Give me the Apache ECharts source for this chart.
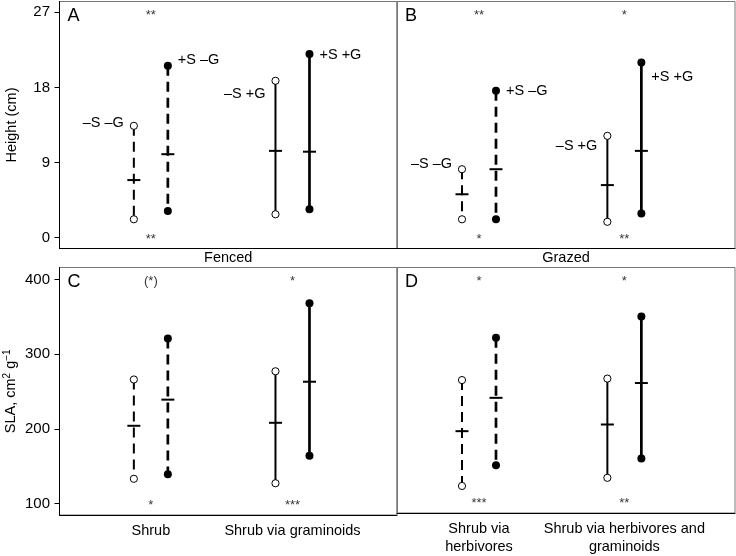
<!DOCTYPE html>
<html><head><meta charset="utf-8">
<script src="https://cdn.jsdelivr.net/npm/echarts@6/dist/echarts.min.js"></script>
<style>html,body{margin:0;padding:0;background:#fff}#c{width:736px;height:556px}</style>
</head><body><div id="c"></div>
<script>
// ---------- data ----------
const treatments = ['–S –G', '+S –G', '–S +G', '+S +G'];
const groupOf = [1, 1, 2, 2];      // x group (category index) of each treatment
const sideOf = [-1, 1, -1, 1];      // left / right within group
const heightTicks = [0, 9, 18, 27];
const slaTicks = [100, 200, 300, 400];
const fencedCats = ['Shrub', 'Shrub via graminoids'];
const grazedCats = ['Shrub via\nherbivores', 'Shrub via herbivores and\ngraminoids'];
const panelLetters = ['A', 'B', 'C', 'D'];

const hFencedMin = [2.2, 3.2, 2.8, 3.4];
const hFencedMean = [6.9, 10.0, 10.4, 10.3];
const hFencedMax = [13.4, 20.6, 18.8, 22.0];
const hGrazedMin = [2.2, 2.2, 1.9, 2.9];
const hGrazedMean = [5.2, 8.2, 6.3, 10.4];
const hGrazedMax = [8.2, 17.6, 12.2, 21.0];
const slaFencedMin = [133, 139, 127, 164];
const slaFencedMean = [204, 239, 208, 263];
const slaFencedMax = [266, 321, 277, 368];
const slaGrazedMin = [121, 149, 132, 158];
const slaGrazedMean = [195, 240, 204, 260];
const slaGrazedMax = [264, 321, 266, 350];

// heights at which treatment names are written (panels A and B)
const hFencedLabelY = [13.7, 21.3, 17.2, 21.9];
const hGrazedLabelY = [8.8, 17.6, 11.0, 19.2];

// significance marks per group [group1, group2]
const sigHFencedTop = ['**', ''];
const sigHFencedBottom = ['**', ''];
const sigHGrazedTop = ['**', '*'];
const sigHGrazedBottom = ['*', '**'];
const sigSlaFencedTop = ['(*)', '*'];
const sigSlaFencedBottom = ['*', '***'];
const sigSlaGrazedTop = ['*', '*'];
const sigSlaGrazedBottom = ['***', '**'];
const heightSigY = [26.6, -0.2];
const slaSigY = [397.5, 97.5];

// ---------- layout ----------
const FONT = 'Liberation Sans, Arial, Helvetica, sans-serif';
const grids = [
  {left: 59.5, top: 1.5, width: 337.5, height: 247},
  {left: 397, top: 1.5, width: 338, height: 247},
  {left: 59.5, top: 267.5, width: 337.5, height: 247.5},
  {left: 397, top: 267.5, width: 338, height: 247.5}
];
const xRanges = [[0.355, 2.738], [0.436, 2.761], [0.355, 2.738], [0.436, 2.761]];
const yRanges = [[-1.3, 28.3], [-1.3, 28.3], [84.5, 416], [84.5, 416]];

function renderRange(params, api) {
  const g = api.value(0), side = api.value(1);
  const mn = api.value(2), mean = api.value(3), mx = api.value(4);
  const idx = api.value(5), ly = api.value(6);
  const p = api.coord([g, mn]);
  const x = p[0] + side * 17;
  const yMin = p[1];
  const yMax = api.coord([g, mx])[1];
  const yMean = api.coord([g, mean])[1];
  const filled = (idx === 1 || idx === 3);
  const dashed = (idx === 0 || idx === 1);
  const children = [
    {type: 'line', shape: {x1: x, y1: yMax, x2: x, y2: yMin},
     style: {stroke: '#000', lineWidth: filled ? 2.7 : 2, lineDash: dashed ? [10, 6] : null}},
    {type: 'line', shape: {x1: x - 6.5, y1: yMean, x2: x + 6.5, y2: yMean},
     style: {stroke: '#000', lineWidth: 2}},
    {type: 'circle', shape: {cx: x, cy: yMax, r: filled ? 4 : 3.6},
     style: {fill: filled ? '#000' : '#fff', stroke: '#000', lineWidth: filled ? 0 : 1}},
    {type: 'circle', shape: {cx: x, cy: yMin, r: filled ? 4 : 3.6},
     style: {fill: filled ? '#000' : '#fff', stroke: '#000', lineWidth: filled ? 0 : 1}}
  ];
  if (!isNaN(ly)) {
    children.push({type: 'text', x: x + side * 10, y: api.coord([g, ly])[1],
      style: {text: treatments[idx], font: '14.5px ' + FONT, fill: '#000',
        align: side > 0 ? 'left' : 'right', verticalAlign: 'middle'}});
  }
  return {type: 'group', children: children};
}

function rangeData(mins, means, maxs, labelY) {
  return treatments.map((t, i) => [groupOf[i], sideOf[i], mins[i], means[i], maxs[i], i,
    labelY ? labelY[i] : NaN]);
}
function sigData(top, bottom, ys) {
  const d = [];
  [0, 1].forEach(k => {
    if (top[k]) d.push({value: [k + 1, ys[0]], name: top[k]});
    if (bottom[k]) d.push({value: [k + 1, ys[1]], name: bottom[k]});
  });
  return d;
}

const panels = [
  {data: rangeData(hFencedMin, hFencedMean, hFencedMax, hFencedLabelY), sig: sigData(sigHFencedTop, sigHFencedBottom, heightSigY)},
  {data: rangeData(hGrazedMin, hGrazedMean, hGrazedMax, hGrazedLabelY), sig: sigData(sigHGrazedTop, sigHGrazedBottom, heightSigY)},
  {data: rangeData(slaFencedMin, slaFencedMean, slaFencedMax, null), sig: sigData(sigSlaFencedTop, sigSlaFencedBottom, slaSigY)},
  {data: rangeData(slaGrazedMin, slaGrazedMean, slaGrazedMax, null), sig: sigData(sigSlaGrazedTop, sigSlaGrazedBottom, slaSigY)}
];

const xAxis = [], yAxis = [], series = [];
for (let i = 0; i < 4; i++) {
  const isLeft = (i % 2 === 0), isBottom = i >= 2;
  const cats = i === 2 ? fencedCats : grazedCats;
  xAxis.push({
    gridIndex: i, type: 'value', min: xRanges[i][0], max: xRanges[i][1],
    axisLine: {show: true, onZero: false, lineStyle: {color: '#000', width: 1}},
    axisTick: {show: false}, splitLine: {show: false},
    axisLabel: isBottom ? {show: true, customValues: [1, 2], formatter: v => cats[Math.round(v) - 1],
      fontSize: 14.5, fontFamily: FONT, color: '#000', margin: 7, lineHeight: 18} : {show: false},
    name: i === 0 ? 'Fenced' : (i === 1 ? 'Grazed' : ''),
    nameLocation: 'middle', nameGap: 2,
    nameTextStyle: {fontSize: 14.5, fontFamily: FONT, color: '#000'}
  });
  yAxis.push({
    gridIndex: i, type: 'value', min: yRanges[i][0], max: yRanges[i][1],
    axisLine: {show: true, onZero: false, lineStyle: {color: isLeft ? '#000' : '#777', width: 1}},
    axisTick: isLeft ? {show: true, customValues: isBottom ? slaTicks : heightTicks, length: 5,
      lineStyle: {color: '#000'}} : {show: false},
    axisLabel: isLeft ? {show: true, customValues: isBottom ? slaTicks : heightTicks,
      fontSize: 15, fontFamily: FONT, color: '#000', margin: 9.5} : {show: false},
    splitLine: {show: false},
    name: isLeft ? (isBottom ? 'SLA, cm{sup|2} g{sup|−1}' : 'Height (cm)') : '',
    nameLocation: 'middle', nameGap: 40,
    nameTextStyle: {fontSize: 14.5, fontFamily: FONT, color: '#000',
      rich: {sup: {fontSize: 10, fontFamily: FONT, color: '#000', verticalAlign: 'top', padding: [0, 0, 7, 0]}}}
  });
  series.push({
    type: 'custom', xAxisIndex: i, yAxisIndex: i, renderItem: renderRange,
    data: panels[i].data, clip: false, silent: true
  });
  series.push({
    type: 'scatter', xAxisIndex: i, yAxisIndex: i, symbolSize: 0, silent: true,
    data: panels[i].sig,
    label: {show: true, position: 'inside', formatter: p => p.name,
      fontSize: 13, fontFamily: FONT, color: '#000'}
  });
}

const chart = echarts.init(document.getElementById('c'), null, {renderer: 'canvas'});
chart.setOption({
  animation: false,
  backgroundColor: '#fff',
  grid: grids.map(g => Object.assign({show: true, borderColor: '#777', borderWidth: 1, containLabel: false}, g)),
  xAxis: xAxis, yAxis: yAxis, series: series,
  graphic: grids.map((g, i) => ({type: 'text', left: g.left + 8, top: g.top + 6,
    style: {text: panelLetters[i], font: '18px ' + FONT, fill: '#000'}}))
});
</script>
</body></html>
